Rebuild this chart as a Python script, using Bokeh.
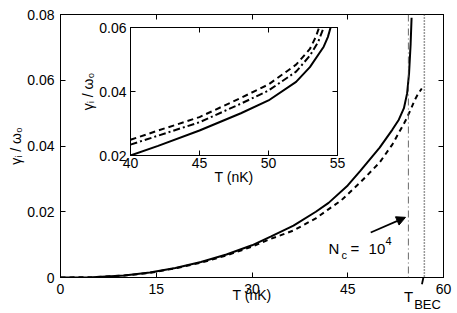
from bokeh.plotting import figure
from bokeh.models import Range1d, FixedTicker, LinearAxis, Span, Arrow, NormalHead, Label, Div
from bokeh.layouts import column
from bokeh.embed import file_html
from bokeh.resources import INLINE

FONT = "Liberation Sans"

# ---- main panel data ----
main_T_solid = [0, 5, 10, 14, 18, 22, 26, 30, 33, 36.5, 40, 42, 45, 47, 50, 52, 53, 53.8, 54.3, 54.6, 54.85, 55.0]
main_solid = [0, 0.0001, 0.0006, 0.0015, 0.0029, 0.0047, 0.0070, 0.0098, 0.0125, 0.0158, 0.0200, 0.0227,
              0.0280, 0.0325, 0.0395, 0.0450, 0.0480, 0.0515, 0.0560, 0.0620, 0.0710, 0.0790]
main_T_dashed = [0, 5, 10, 14, 18, 22, 26, 30, 33, 36.5, 40, 41.8, 44, 47, 48, 50, 52, 53, 54, 54.8, 55.5, 56.0, 56.6]
main_dashed = [0, 0.0001, 0.0006, 0.0014, 0.0028, 0.0045, 0.0067, 0.0094, 0.0118, 0.0143, 0.0180, 0.0205,
               0.0235, 0.0290, 0.0310, 0.0350, 0.0405, 0.0440, 0.0475, 0.0508, 0.0540, 0.0558, 0.0575]
T_c = 54.5
T_BEC = 57.0
main_x_ticks = [0, 15, 30, 45, 60]
main_y_ticks = [0, 0.02, 0.04, 0.06, 0.08]
main_y_tick_labels = ["0", "0.02", "0.04", "0.06", "0.08"]

# ---- inset data ----
inset_T_solid = [40, 42, 45, 48, 50, 52, 53, 54, 54.3, 54.5]
inset_solid = [0.0200, 0.0230, 0.0278, 0.0332, 0.0372, 0.0430, 0.0476, 0.0540, 0.0570, 0.0600]
inset_T_dashdot = [40, 42, 45, 48, 50, 52, 53, 53.6, 54.0]
inset_dashdot = [0.0234, 0.0262, 0.0304, 0.0362, 0.0403, 0.0462, 0.0512, 0.0555, 0.0600]
inset_T_dashed = [40, 42, 45, 48, 50, 52, 53, 53.4, 53.67]
inset_dashed = [0.0249, 0.0278, 0.0320, 0.0380, 0.0422, 0.0484, 0.0533, 0.0568, 0.0600]
inset_x_ticks = [40, 45, 50, 55]
inset_y_ticks = [0.02, 0.04, 0.06]
inset_y_tick_labels = ["0.02", "0.04", "0.06"]

# ---- annotation anchors ----
nc_arrow = (48.6, 0.0137, 54.05, 0.0183)
nc_text_pos = (42.0, 0.0088)
tbec_arrow = (56.3, -0.0050, 56.85, 0.0)

Y_LABEL = "\u03b3\u1d62 / \u03c9\u2080"


def style_axes(fig, xticks, yticks, ylabels, xlabel, ylabel, x_standoff, y_standoff, xl_standoff, yl_standoff):
    fig.xaxis.ticker = FixedTicker(ticks=xticks)
    fig.yaxis.ticker = FixedTicker(ticks=yticks)
    fig.yaxis.major_label_overrides = {t: l for t, l in zip(yticks, ylabels)}
    for ax in (fig.xaxis[0], fig.yaxis[0]):
        ax.major_tick_in = 5
        ax.major_tick_out = 0
        ax.minor_tick_line_color = None
        ax.axis_line_color = "black"
        ax.major_tick_line_color = "black"
        ax.major_label_text_font = FONT
        ax.major_label_text_font_size = "14px"
        ax.major_label_text_color = "black"
        ax.axis_label_text_font = FONT
        ax.axis_label_text_font_size = "14px"
        ax.axis_label_text_font_style = "normal"
        ax.axis_label_text_color = "black"
    fig.xaxis.axis_label = xlabel
    fig.yaxis.axis_label = ylabel
    fig.xaxis.major_label_standoff = x_standoff
    fig.yaxis.major_label_standoff = y_standoff
    fig.xaxis.axis_label_standoff = xl_standoff
    fig.yaxis.axis_label_standoff = yl_standoff
    top = LinearAxis(ticker=FixedTicker(ticks=xticks), major_tick_in=5, major_tick_out=0,
                     major_label_overrides={t: "" for t in xticks}, major_label_standoff=0,
                     minor_tick_line_color=None, axis_line_color="black")
    right = LinearAxis(ticker=FixedTicker(ticks=yticks), major_tick_in=5, major_tick_out=0,
                       major_label_overrides={t: "" for t in yticks}, major_label_standoff=0,
                       minor_tick_line_color=None, axis_line_color="black")
    fig.add_layout(top, "above")
    fig.add_layout(right, "right")
    fig.grid.grid_line_color = None
    fig.outline_line_color = "black"


p = figure(width=457, height=313, x_range=Range1d(0, 60), y_range=Range1d(0, 0.08),
           output_backend="svg", toolbar_location=None,
           min_border_left=60, min_border_right=14, min_border_top=14, min_border_bottom=36)
style_axes(p, main_x_ticks, main_y_ticks, main_y_tick_labels, "T (nK)", Y_LABEL, 6, 6, -10, 0)

p.add_layout(Span(location=T_c, dimension="height", line_color="#444444", line_width=0.8, line_dash="7 3 1 3"))
p.add_layout(Span(location=T_BEC, dimension="height", line_color="#333333", line_width=1.5, line_dash="1 2"))
p.line(main_T_solid, main_solid, line_color="black", line_width=2)
p.line(main_T_dashed, main_dashed, line_color="black", line_width=2, line_dash="5 4")

p.add_layout(Arrow(end=NormalHead(size=9, fill_color="black", line_color="black"),
                   x_start=nc_arrow[0], y_start=nc_arrow[1], x_end=nc_arrow[2], y_end=nc_arrow[3],
                   line_color="black", line_width=1.8))
p.add_layout(Arrow(end=NormalHead(size=7, fill_color="black", line_color="black"),
                   x_start=tbec_arrow[0], y_start=tbec_arrow[1], x_end=tbec_arrow[2], y_end=tbec_arrow[3],
                   line_color="black", line_width=1.8))


def lbl(fig, pos, text, dx, dy, size):
    fig.add_layout(Label(x=pos[0], y=pos[1], text=text, x_offset=dx, y_offset=dy,
                         text_font=FONT, text_font_size=size, text_color="black",
                         text_baseline="alphabetic", text_align="left"))


lbl(p, nc_text_pos, "N", 0, 0, "15px")
lbl(p, nc_text_pos, "c", 13, -6, "11px")
lbl(p, nc_text_pos, "=", 22, 0, "15px")
lbl(p, nc_text_pos, "10", 40, 0, "15px")
lbl(p, nc_text_pos, "4", 57, 8, "11px")

# T_BEC text below the axis (outside the plot frame), as HTML text
tbec = Div(text='T<span style="font-size:13px;position:relative;top:7px;margin-left:1px;">BEC</span>',
           styles={"position": "absolute", "left": "399px", "top": "284px",
                   "font-family": FONT, "font-size": "15px", "line-height": "15px",
                   "color": "black", "white-space": "nowrap"})

# ---- inset ----
ins = figure(width=281, height=171, x_range=Range1d(40, 55), y_range=Range1d(0.02, 0.06),
             output_backend="svg", toolbar_location=None,
             min_border_left=57, min_border_right=10, min_border_top=8, min_border_bottom=35)
style_axes(ins, inset_x_ticks, inset_y_ticks, inset_y_tick_labels, "T (nK)", Y_LABEL, 2, 4, -2, 0)
ins.border_fill_color = None
ins.background_fill_color = "white"
ins.line(inset_T_solid, inset_solid, line_color="black", line_width=2)
ins.line(inset_T_dashdot, inset_dashdot, line_color="black", line_width=2, line_dash="7 3 2 3")
ins.line(inset_T_dashed, inset_dashed, line_color="black", line_width=2, line_dash="6 4")
ins.styles = {"position": "absolute", "left": "70px", "top": "19px"}

layout = column(p, ins, tbec, styles={"position": "relative"})

with open("out.html", "w") as f:
    f.write(file_html(layout, INLINE))
